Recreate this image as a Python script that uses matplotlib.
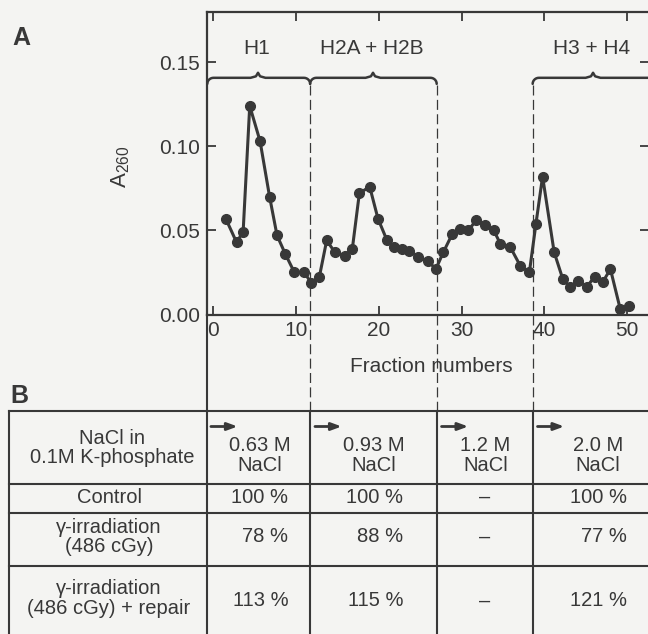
import matplotlib
matplotlib.use("Agg")
import matplotlib.pyplot as plt
import matplotlib.transforms as mtransforms
from matplotlib.lines import Line2D
from matplotlib.patches import FancyArrowPatch
import numpy as np

# Painel A - perfil de eluicao
fracao = [1.5, 2.8, 3.6, 4.4, 5.65, 6.8, 7.7, 8.7, 9.8, 11.0,
          11.8, 12.8, 13.7, 14.7, 15.9, 16.8, 17.65, 18.9, 19.9, 21.0,
          21.85, 22.8, 23.7, 24.8, 25.9, 26.9, 27.8, 28.9, 29.8, 30.8,
          31.8, 32.8, 33.9, 34.7, 35.9, 37.1, 38.2, 39.0, 39.8, 41.2,
          42.25, 43.1, 44.1, 45.15, 46.1, 47.1, 48.0, 49.2, 50.2]
a260 = [0.057, 0.043, 0.049, 0.124, 0.103, 0.070, 0.047, 0.036, 0.025, 0.025,
        0.019, 0.022, 0.044, 0.037, 0.035, 0.039, 0.072, 0.076, 0.057, 0.044,
        0.040, 0.039, 0.038, 0.034, 0.032, 0.027, 0.037, 0.048, 0.051, 0.050,
        0.056, 0.053, 0.050, 0.042, 0.040, 0.029, 0.025, 0.054, 0.082, 0.037,
        0.021, 0.0165, 0.020, 0.0165, 0.0225, 0.0195, 0.027, 0.003, 0.005]

# limites dos degraus de sal (linhas tracejadas)
limites = [11.7, 27.0, 38.6]

# picos das histonas
picos = ["H1", "H2A + H2B", "H3 + H4"]
pico_ini = [-0.73, 11.7, 38.6]
pico_fim = [11.7, 27.0, 52.7]
pico_meio = [5.4, 19.3, 45.9]

# Painel B - tabela
colunas = ["0.63 M\nNaCl", "0.93 M\nNaCl", "1.2 M\nNaCl", "2.0 M\nNaCl"]
linhas = ["Control", "γ-irradiation\n(486 cGy)", "γ-irradiation\n(486 cGy) + repair"]
controle = ["100 %", "100 %", "–", "100 %"]
irradiado = ["78 %", "88 %", "–", "77 %"]
reparo = ["113 %", "115 %", "–", "121 %"]

TINTA = "#383838"
FUNDO = "#f4f4f2"
W, H = 648, 634

plt.rcParams["font.family"] = ["Liberation Sans", "DejaVu Sans"]
plt.rcParams["mathtext.fontset"] = "custom"
plt.rcParams["mathtext.rm"] = "Liberation Sans"
plt.rcParams["text.color"] = TINTA


def fy(px):
    return 1 - px / H


def fx(px):
    return px / W


fig = plt.figure(figsize=(W / 100, H / 100), dpi=100, facecolor=FUNDO)
ax = fig.add_axes([fx(207.3), fy(314.5), fx(649.3 - 207.3), (314.5 - 11.7) / H])
ax.set_facecolor(FUNDO)

ax.plot(fracao, a260, color=TINTA, lw=2.2, marker="o", ms=7, mfc=TINTA, mec=TINTA)

ax.set_xlim(-0.73, 52.7)
ax.set_ylim(0, 0.180)
ax.set_xticks([0, 10, 20, 30, 40, 50])
ax.set_yticks([0, 0.05, 0.10, 0.15])
ax.set_yticklabels(["0.00", "0.05", "0.10", "0.15"])
ax.tick_params(direction="in", length=6.5, width=1.3, top=True, right=True,
               labelsize=15, colors=TINTA, pad=5)
for s in ax.spines.values():
    s.set_linewidth(1.6)
    s.set_color(TINTA)

# chaves dos picos
yb = 0.1407
rx, ry = 0.75, 0.0036
t = np.linspace(0, np.pi / 2, 8)
for nome, x0, x1, xm in zip(picos, pico_ini, pico_fim, pico_meio):
    xs = list(x0 + rx - rx * np.cos(t)) + [xm - 0.9, xm - 0.25, xm, xm + 0.25, xm + 0.9]
    ys = list(yb - ry + ry * np.sin(t)) + [yb, yb + 0.0009, yb + 0.003, yb + 0.0009, yb]
    if x1 < 52:
        xs += list(x1 - rx + rx * np.cos(t[::-1]))
        ys += list(yb - ry + ry * np.sin(t[::-1]))
    else:
        xs += [x1 + 1]
        ys += [yb]
    ax.plot(xs, ys, color=TINTA, lw=1.8, clip_on=False, solid_capstyle="round")
    ax.text(xm - 0.2, 0.158, nome, ha="center", va="center", fontsize=15)

# x em dados, y em figura
mix = mtransforms.blended_transform_factory(ax.transData, fig.transFigure)

topo_tab = 411
for xl in limites:
    fig.add_artist(Line2D([xl, xl], [fy(85), fy(topo_tab)], transform=mix, color=TINTA,
                          lw=0.9, dashes=(8, 3.5)))
    fig.add_artist(Line2D([xl, xl], [fy(topo_tab), fy(H + 5)], transform=mix, color=TINTA, lw=1.5))
fig.add_artist(Line2D([-0.73, -0.73], [fy(314.5), fy(H + 5)], transform=mix, color=TINTA, lw=1.5))

# rotulos
fig.text(fx(21), fy(38), "A", fontsize=18, fontweight="bold", ha="center", va="center")
fig.text(fx(19), fy(396), "B", fontsize=18, fontweight="bold", ha="center", va="center")
fig.text(fx(121), fy(166.7), r"$\mathregular{A_{260}}$", fontsize=16, rotation=90,
         ha="center", va="center")
fig.text(fx(431.7), fy(366.7), "Fraction numbers", fontsize=15, ha="center", va="center")

# tabela B
for yl in [topo_tab, 484, 513.3, 565.7]:
    fig.add_artist(Line2D([fx(9), fx(W + 5)], [fy(yl), fy(yl)], transform=fig.transFigure,
                          color=TINTA, lw=1.5))
fig.add_artist(Line2D([fx(9), fx(9)], [fy(topo_tab), fy(H + 5)], transform=fig.transFigure,
                      color=TINTA, lw=1.5))

bordas = [-0.73] + limites + [54.2]
centros = [(a + b) / 2 for a, b in zip(bordas[:-1], bordas[1:])]

fig.text(fx(112), fy(448), "NaCl in\n0.1M K-phosphate", fontsize=14.5, ha="center", va="center",
         linespacing=1.0)
for i, (nome, c) in enumerate(zip(colunas, centros)):
    fig.text(c + 0.1, fy(455.5), nome, transform=mix, fontsize=14.5, ha="center", va="center",
             linespacing=1.05)
    x0 = bordas[i] + (0.1 if i == 0 else 0.25)
    fig.add_artist(FancyArrowPatch((x0, fy(426.5)), (x0 + 3.9, fy(426.5)), transform=mix,
                                   arrowstyle="-|>,head_length=6,head_width=2.2",
                                   mutation_scale=1, color=TINTA, lw=2))

linha_y = [497.5, 537, 598.5]
valor_y = [497.5, 537, 601]
for nome, yy, yv, vals in zip(linhas, linha_y, valor_y, [controle, irradiado, reparo]):
    fig.text(fx(109), fy(yy), nome, fontsize=14.5, ha="center", va="center", linespacing=1.0)
    for v, c in zip(vals, centros):
        if v == "–":
            fig.text(c, fy(yv), v, transform=mix, fontsize=14.5, ha="center", va="center")
        else:
            fig.text(c + 3.6, fy(yv), v, transform=mix, fontsize=14.5, ha="right", va="center")

fig.savefig("out.png", dpi=100, facecolor=FUNDO)
